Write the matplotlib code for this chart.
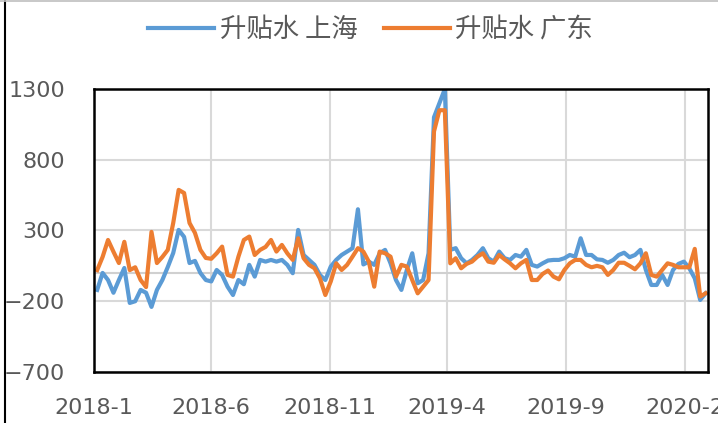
import pandas as pd
import matplotlib
matplotlib.use("Agg")
from matplotlib import pyplot as plt
from matplotlib.lines import Line2D

plt.rcParams['font.family'] = ['DejaVu Sans', 'Noto Sans CJK SC']

# weekly readings, Jan 2018 - Feb 2020
shanghai = [-120, 0, -50, -140, -50, 35, -212, -200, -120, -140,
            -240, -120, -50, 42, 141, 304, 255, 70, 85, 0,
            -50, -60, 21, -14, -97, -156, -50, -80, 57, -26,
            92, 80, 92, 80, 92, 57, -2, 304, 127, 92,
            57, -14, -50, 45, 92, 127, 151, 175, 450, 60,
            80, 57, 139, 163, 68, -50, -120, 21, 139, -73,
            -50, 139, 1100, 1200, 1300, 163, 175, 104, 68, 92,
            127, 175, 104, 80, 151, 104, 92, 127, 115, 163,
            57, 45, 68, 88, 92, 92, 104, 127, 115, 245,
            127, 127, 96, 92, 72, 92, 127, 143, 111, 127,
            163, 21, -85, -85, -14, -85, 21, 64, 80, 33,
            -38, -191, -144]
guangdong = [20, 113, 233, 150, 70, 220, 20, 40, -50, -100,
             290, 70, 113, 163, 353, 587, 565, 353, 283, 163,
             106, 100, 139, 186, -14, -26, 115, 233, 257, 127,
             163, 184, 233, 151, 198, 139, 92, 245, 104, 57,
             33, -38, -156, -60, 68, 21, 57, 115, 175, 151,
             80, -97, 151, 139, 115, -26, 57, 45, -50, -144,
             -97, -50, 1000, 1150, 1150, 68, 104, 33, 64, 80,
             115, 139, 80, 72, 127, 96, 68, 33, 68, 92,
             -50, -50, -7, 17, -26, -45, 21, 68, 92, 92,
             57, 40, 50, 40, -14, 21, 72, 72, 50, 26,
             68, 139, -14, -26, 21, 68, 57, 40, 40, 40,
             170, -167, -144]
dates = pd.date_range("2018-01-05", periods=len(shanghai), freq="7D")

xticks = pd.to_datetime(["2018-01-01", "2018-06-01", "2018-11-01",
                         "2019-04-01", "2019-09-01", "2020-02-01"])
xlabels = ["2018-1", "2018-6", "2018-11", "2019-4", "2019-9", "2020-2"]
yticks = [-700, -200, 300, 800, 1300]

grey = "#595959"
fig = plt.figure(figsize=(7.18, 4.23), dpi=100)
ax = fig.add_axes([0.131, 0.1206, 0.855, 0.669])

h1, = ax.plot(dates, shanghai, color="#5B9BD5", lw=3)
h2, = ax.plot(dates, guangdong, color="#ED7D31", lw=3)

ax.set_xlim(pd.Timestamp("2018-01-01"), pd.Timestamp("2020-03-02"))
ax.set_ylim(-700, 1300)
ax.set_yticks(yticks)
ax.set_xticks(xticks)
ax.set_xticklabels(xlabels)
ax.grid(True, color="#d9d9d9", lw=1.5)
ax.set_axisbelow(True)
ax.axhline(0, color="#d0d0d0", lw=1.5, zorder=1)
ax.tick_params(length=0, labelsize=16, labelcolor=grey)
ax.tick_params(axis="y", pad=21)
ax.tick_params(axis="x", pad=19)
for s in ax.spines.values():
    s.set_color("black")
    s.set_linewidth(1.8)

fig.legend([h1, h2], ["升贴水 上海", "升贴水 广东"], loc="center",
           bbox_to_anchor=(0.516, 0.93), ncol=2, frameon=False,
           handlelength=2.5, columnspacing=1.0, handletextpad=0.2,
           prop={"family": ["Noto Sans CJK SC"], "size": 19},
           labelcolor=grey)

# outer chart border
fig.add_artist(Line2D([0.007, 0.007], [0, 1], color="black", lw=1.5))
fig.add_artist(Line2D([0, 1], [0.998, 0.998], color="#bfbfbf", lw=1.2))

fig.savefig("out.png", dpi=100)
